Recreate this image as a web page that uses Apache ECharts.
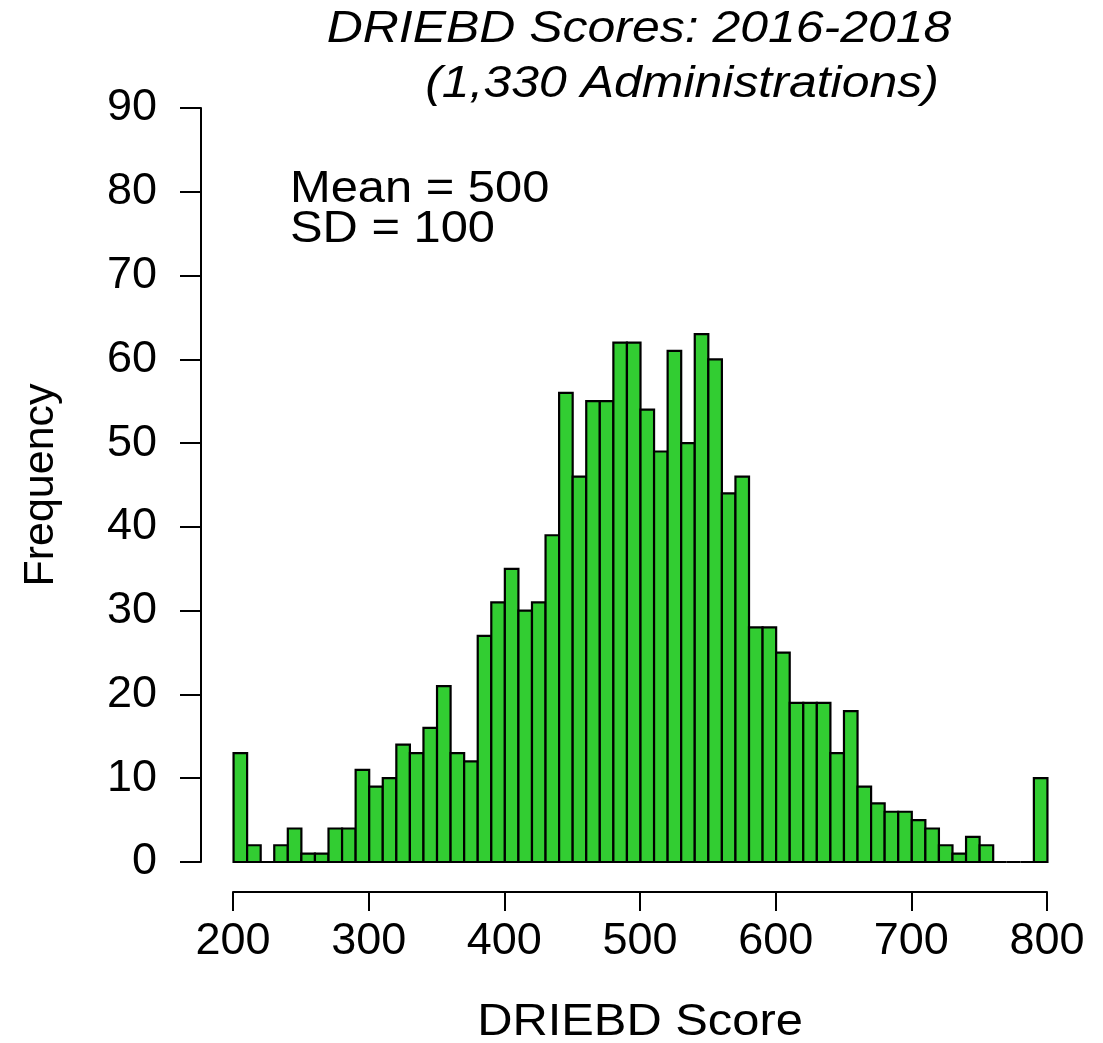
<!DOCTYPE html>
<html>
<head>
<meta charset="utf-8">
<script src="https://cdn.jsdelivr.net/npm/echarts@6/dist/echarts.min.js"></script>
<style>
  html, body { margin: 0; padding: 0; background: #fff; }
  #chart { width: 1103px; height: 1043px; }
</style>
</head>
<body>
<div id="chart"></div>
<script>
// ── Data ─────────────────────────────────────────────────────────────────────
const binStarts = [200, 210, 220, 230, 240, 250, 260, 270, 280, 290,
                   300, 310, 320, 330, 340, 350, 360, 370, 380, 390,
                   400, 410, 420, 430, 440, 450, 460, 470, 480, 490,
                   500, 510, 520, 530, 540, 550, 560, 570, 580, 590,
                   600, 610, 620, 630, 640, 650, 660, 670, 680, 690,
                   700, 710, 720, 730, 740, 750, 760, 770, 780, 790];
const binWidth = 10;
const counts = [13, 2, 0, 2, 4, 1, 1, 4, 4, 11,
                9, 10, 14, 13, 16, 21, 13, 12, 27, 31,
                35, 30, 31, 39, 56, 46, 55, 55, 62, 62,
                54, 49, 61, 50, 63, 60, 44, 46, 28, 28,
                25, 19, 19, 19, 13, 18, 9, 7, 6, 6,
                5, 4, 2, 1, 3, 2, 0, 0, 0, 10];
const xTickMin = 200, xTickMax = 800, xTickStep = 100;
const yTickMin = 0, yTickMax = 90, yTickStep = 10;

const titleLines = ['DRIEBD Scores: 2016-2018', '(1,330 Administrations)'];
const noteLines = ['Mean = 500', 'SD = 100'];
const xTitle = 'DRIEBD Score';
const yTitle = 'Frequency';

const FONT = "'Liberation Sans', Arial, sans-serif";
const INK = '#000';

// table for the custom series: [from, to, count]
const histData = binStarts.map((s, i) => [s, s + binWidth, counts[i]]);

function renderBar(params, api) {
    const top = api.coord([api.value(0), api.value(2)]);
    const base = api.coord([api.value(1), 0]);
    return {
        type: 'rect',
        shape: { x: top[0], y: top[1], width: base[0] - top[0], height: base[1] - top[1] },
        style: { fill: '#32CD32', stroke: '#000', lineWidth: 2.2 }
    };
}

// text helper for the free-standing labels (slightly widened like the original device)
const label = (text, x, y, font, align) => ({
    type: 'text', x: x, y: y, scaleX: 1.11,
    style: { text: text, fill: INK, font: font, textAlign: align, textVerticalAlign: 'middle' }
});

const chart = echarts.init(document.getElementById('chart'), null, { renderer: 'canvas' });

chart.setOption({
    backgroundColor: '#fff',
    animation: false,
    textStyle: { fontFamily: FONT },
    grid: [
        // plot region (R usr: 176..824 x 0..90)
        { left: 201, right: 23, top: 108, bottom: 181 },
        // separate, offset x axis like R's axis()
        { left: 233, right: 56, top: 880, bottom: 151 }
    ],
    xAxis: [
        {
            gridIndex: 0, type: 'value', min: 176, max: 824,
            show: false
        },
        {
            gridIndex: 1, type: 'value', min: xTickMin, max: xTickMax, interval: xTickStep,
            position: 'bottom',
            axisLine: { show: true, lineStyle: { color: INK, width: 2 } },
            axisTick: { show: true, inside: false, length: 19, lineStyle: { color: INK, width: 2 } },
            axisLabel: { color: INK, fontSize: 45, fontFamily: FONT, margin: 27 },
            splitLine: { show: false }
        }
    ],
    yAxis: [
        {
            gridIndex: 0, type: 'value', min: yTickMin, max: yTickMax, interval: yTickStep,
            axisLine: { show: true, lineStyle: { color: INK, width: 2 } },
            axisTick: { show: true, length: 21, lineStyle: { color: INK, width: 2 } },
            axisLabel: { color: INK, fontSize: 45, fontFamily: FONT, margin: 44 },
            splitLine: { show: false },
            name: yTitle, nameLocation: 'middle', nameGap: 138, nameRotate: 90,
            nameTextStyle: { color: INK, fontSize: 43, fontFamily: FONT }
        },
        { gridIndex: 1, type: 'value', show: false, min: 0, max: 1 }
    ],
    series: [{
        type: 'custom',
        xAxisIndex: 0, yAxisIndex: 0,
        renderItem: renderBar,
        data: histData,
        encode: { x: [0, 1], y: 2 },
        clip: false
    }],
    graphic: [
        label(titleLines[0], 639, 29, `italic 45px ${FONT}`, 'center'),
        label(titleLines[1], 682, 84, `italic 45px ${FONT}`, 'center'),
        label(noteLines[0], 290, 190, `44px ${FONT}`, 'left'),
        label(noteLines[1], 290, 230, `44px ${FONT}`, 'left'),
        label(xTitle, 640, 1023, `44px ${FONT}`, 'center')
    ]
});
</script>
</body>
</html>
